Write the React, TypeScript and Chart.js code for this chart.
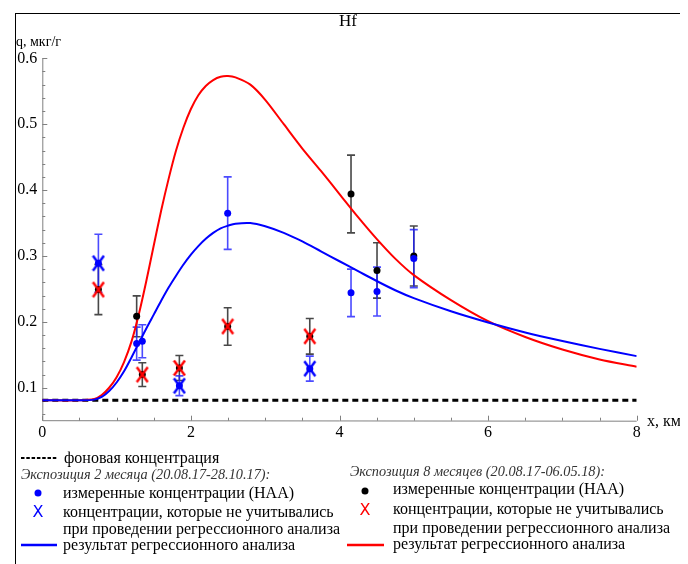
import React, { useEffect, useRef } from "react";
import { Chart, registerables } from "chart.js";
Chart.register(...registerables);

// ---------- data ----------
const BACKGROUND_LEVEL = 0.081;
const BACKGROUND_X = [0, 8];

const CURVE_X = [0, 0.5, 0.7, 0.8, 0.9, 1.0, 1.1, 1.2, 1.3, 1.4, 1.5, 1.6, 1.7, 1.8, 1.9, 2.0, 2.1, 2.2, 2.3, 2.4, 2.5, 2.6, 2.8, 3.0, 3.25, 3.5, 3.75, 4.0, 4.25, 4.5, 4.75, 5.0, 5.5, 6.0, 6.5, 7.0, 7.5, 8.0];
const RED_CURVE = [0.081, 0.081, 0.083, 0.089, 0.1, 0.116, 0.139, 0.17, 0.212, 0.262, 0.316, 0.369, 0.417, 0.46, 0.495, 0.523, 0.544, 0.558, 0.567, 0.572, 0.573, 0.571, 0.56, 0.537, 0.5, 0.463, 0.429, 0.394, 0.359, 0.326, 0.296, 0.271, 0.233, 0.201, 0.177, 0.158, 0.143, 0.132];
const BLUE_CURVE = [0.081, 0.081, 0.082, 0.086, 0.095, 0.108, 0.125, 0.146, 0.168, 0.19, 0.211, 0.232, 0.252, 0.27, 0.287, 0.302, 0.315, 0.326, 0.335, 0.342, 0.346, 0.349, 0.35, 0.345, 0.335, 0.322, 0.307, 0.292, 0.277, 0.262, 0.248, 0.236, 0.216, 0.199, 0.184, 0.171, 0.159, 0.148];

// 2 months exposure (blue)
const BLUE_X = [1.27, 1.346, 2.495, 4.155, 4.505, 5.0];
const BLUE_Y = [0.167, 0.1706, 0.365, 0.244, 0.246, 0.296];
const BLUE_ERR = [0.025, 0.025, 0.055, 0.036, 0.037, 0.044];
const BLUE_EXCL_X = [0.755, 1.845, 3.6];
const BLUE_EXCL_Y = [0.289, 0.103, 0.129];
const BLUE_EXCL_ERR = [0.044, 0.015, 0.019];

// 8 months exposure (black / red)
const BLACK_X = [1.27, 4.155, 4.505, 5.0];
const BLACK_Y = [0.2085, 0.394, 0.278, 0.3];
const BLACK_ERR = [0.031, 0.059, 0.042, 0.0455];
const BLACK_EXCL_X = [0.755, 1.346, 1.845, 2.495, 3.6];
const BLACK_EXCL_Y = [0.249, 0.12, 0.13, 0.193, 0.178];
const BLACK_EXCL_ERR = [0.038, 0.018, 0.019, 0.0285, 0.027];

const X_TICKS = [0, 2, 4, 6, 8];
const X_TICK_LABELS = ["0", "2", "4", "6", "8"];
const Y_TICKS = [0.1, 0.2, 0.3, 0.4, 0.5, 0.6];
const Y_TICK_LABELS = ["0.1", "0.2", "0.3", "0.4", "0.5", "0.6"];

const TITLE = "Hf";
const Y_TITLE = "q, мкг/г";
const X_TITLE = "x, км";

// ---------- helpers ----------
const pts = (xs: number[], ys: number[]) => xs.map((x, i) => ({ x, y: ys[i] }));

function makeX(color: string) {
  const c = document.createElement("canvas");
  c.width = 14;
  c.height = 18;
  const g = c.getContext("2d")!;
  g.strokeStyle = color;
  g.lineWidth = 2.4;
  g.beginPath();
  g.moveTo(1.5, 1.5);
  g.lineTo(12.5, 16.5);
  g.moveTo(12.5, 1.5);
  g.lineTo(1.5, 16.5);
  g.stroke();
  return c;
}

const SERIF = "'Liberation Serif', 'Times New Roman', serif";

const axesPlugin = {
  id: "mmaAxes",
  beforeDatasetsDraw(chart: any) {
    const { ctx, chartArea, scales } = chart;
    const xs = scales.x;
    const ys = scales.y;
    ctx.save();
    ctx.strokeStyle = "#808080";
    ctx.lineWidth = 1;
    ctx.beginPath();
    ctx.moveTo(chartArea.left + 0.5, ys.getPixelForValue(0.6));
    ctx.lineTo(chartArea.left + 0.5, chartArea.bottom);
    ctx.lineTo(chartArea.right, chartArea.bottom + 0.5);
    ctx.stroke();
    for (let v = 0; v <= 8.0001; v += 0.5) {
      const px = Math.round(xs.getPixelForValue(v)) + 0.5;
      const major = Math.abs(v - Math.round(v / 2) * 2) < 1e-6;
      ctx.beginPath();
      ctx.moveTo(px, chartArea.bottom);
      ctx.lineTo(px, chartArea.bottom - (major ? 5 : 3));
      ctx.stroke();
    }
    for (let k = 3; k <= 30; k++) {
      const v = k * 0.02;
      const py = Math.round(ys.getPixelForValue(v)) + 0.5;
      const major = k % 5 === 0;
      ctx.beginPath();
      ctx.moveTo(chartArea.left, py);
      ctx.lineTo(chartArea.left + (major ? 5 : 3), py);
      ctx.stroke();
    }
    ctx.fillStyle = "#000";
    ctx.font = "16px " + SERIF;
    ctx.textAlign = "center";
    ctx.textBaseline = "middle";
    X_TICKS.forEach((v, i) => {
      ctx.fillText(X_TICK_LABELS[i], xs.getPixelForValue(v), chartArea.bottom + 12);
    });
    ctx.textAlign = "right";
    Y_TICKS.forEach((v, i) => {
      ctx.fillText(Y_TICK_LABELS[i], chartArea.left - 5, ys.getPixelForValue(v));
    });
    const bars = (xv: number[], yv: number[], ev: number[], color: string) => {
      ctx.strokeStyle = color;
      ctx.lineWidth = 1.6;
      xv.forEach((x, i) => {
        const px = xs.getPixelForValue(x);
        const top = ys.getPixelForValue(yv[i] + ev[i]);
        const bot = ys.getPixelForValue(yv[i] - ev[i]);
        ctx.beginPath();
        ctx.moveTo(px, top);
        ctx.lineTo(px, bot);
        ctx.moveTo(px - 4, top);
        ctx.lineTo(px + 4, top);
        ctx.moveTo(px - 4, bot);
        ctx.lineTo(px + 4, bot);
        ctx.stroke();
      });
    };
    bars(BLACK_X, BLACK_Y, BLACK_ERR, "rgba(40,40,40,0.85)");
    bars(BLACK_EXCL_X, BLACK_EXCL_Y, BLACK_EXCL_ERR, "rgba(40,40,40,0.85)");
    bars(BLUE_X, BLUE_Y, BLUE_ERR, "rgba(30,30,255,0.8)");
    bars(BLUE_EXCL_X, BLUE_EXCL_Y, BLUE_EXCL_ERR, "rgba(30,30,255,0.8)");
    ctx.restore();
  },
};

export default function App() {
  const ref = useRef<HTMLCanvasElement | null>(null);

  useEffect(() => {
    if (!ref.current) return;
    const blueX = makeX("#0000ff");
    const redX = makeX("#ff0000");
    const chart = new Chart(ref.current, {
      type: "scatter",
      data: {
        datasets: [
          {
            label: "bg",
            data: BACKGROUND_X.map((x) => ({ x, y: BACKGROUND_LEVEL })),
            showLine: true,
            borderColor: "#000",
            borderWidth: 3,
            borderDash: [6, 4],
            pointRadius: 0,
            order: 10,
          },
          {
            label: "red",
            data: pts(CURVE_X, RED_CURVE),
            showLine: true,
            borderColor: "#ff0000",
            borderWidth: 2,
            pointRadius: 0,
            tension: 0.3,
            order: 9,
          },
          {
            label: "blue",
            data: pts(CURVE_X, BLUE_CURVE),
            showLine: true,
            borderColor: "#0000ff",
            borderWidth: 2,
            pointRadius: 0,
            tension: 0.3,
            order: 8,
          },
          {
            label: "black pts",
            data: pts(BLACK_X.concat(BLACK_EXCL_X), BLACK_Y.concat(BLACK_EXCL_Y)),
            backgroundColor: "#000",
            borderColor: "#000",
            pointRadius: 3.5,
            borderWidth: 0,
            order: 5,
          },
          {
            label: "blue pts",
            data: pts(BLUE_X.concat(BLUE_EXCL_X), BLUE_Y.concat(BLUE_EXCL_Y)),
            backgroundColor: "#0000ff",
            borderColor: "#0000ff",
            pointRadius: 3.5,
            borderWidth: 0,
            order: 4,
          },
          {
            label: "red x",
            data: pts(BLACK_EXCL_X, BLACK_EXCL_Y),
            pointStyle: redX as any,
            pointRadius: 8,
            order: 2,
          },
          {
            label: "blue x",
            data: pts(BLUE_EXCL_X, BLUE_EXCL_Y),
            pointStyle: blueX as any,
            pointRadius: 8,
            order: 1,
          },
        ],
      },
      options: {
        animation: false,
        responsive: false,
        devicePixelRatio: 1,
        layout: { padding: { left: 34.3, right: 51.3, top: 50.3, bottom: 143.3 } },
        scales: {
          x: { type: "linear", min: 0, max: 8, display: false },
          y: { type: "linear", min: 0.05, max: 0.6, display: false },
        },
        plugins: { legend: { display: false }, tooltip: { enabled: false }, title: { display: false } },
      },
      plugins: [axesPlugin],
    });
    return () => chart.destroy();
  }, []);

  const txt = (left: number, cy: number, s: string, extra: any = {}) => (
    <div
      style={{
        position: "absolute",
        left: left - 8,
        top: cy - 8 - 9,
        height: 18,
        lineHeight: "18px",
        whiteSpace: "nowrap",
        fontFamily: SERIF,
        fontSize: 16,
        color: "#000",
        ...extra,
      }}
    >
      {s}
    </div>
  );

  const dot = (cx: number, cy: number, color: string) => (
    <svg style={{ position: "absolute", left: cx - 8 - 5, top: cy - 8 - 5 }} width={10} height={10}>
      <circle cx={5} cy={5} r={3.5} fill={color} />
    </svg>
  );
  const xMark = (cx: number, cy: number, color: string) =>
    txt(cx - 7, cy, "X", { fontFamily: "'DejaVu Sans', sans-serif", fontSize: 16, color, width: 14, textAlign: "center" });
  const line = (x1: number, x2: number, cy: number, color: string, dash?: string, w = 2.5) => (
    <svg style={{ position: "absolute", left: x1 - 8, top: cy - 8 - 3 }} width={x2 - x1} height={6}>
      <line x1={0} y1={3} x2={x2 - x1} y2={3} stroke={color} strokeWidth={w} strokeDasharray={dash} />
    </svg>
  );

  const italic = { fontStyle: "italic", fontSize: 14.3, color: "#333" };

  return (
    <div style={{ position: "relative", width: 680, height: 556, overflow: "hidden", background: "#fff" }}>
      <div
        style={{
          position: "absolute",
          left: 15 - 8,
          top: 13 - 8,
          width: 800,
          height: 700,
          borderLeft: "1px solid #000",
          borderTop: "1px solid #000",
        }}
      />
      <canvas ref={ref} width={680} height={556} style={{ position: "absolute", left: 0, top: 0, width: 680, height: 556 }} />
      <div
        style={{
          position: "absolute",
          left: 0,
          width: 680,
          top: 21 - 8 - 10,
          height: 20,
          lineHeight: "20px",
          textAlign: "center",
          fontFamily: SERIF,
          fontSize: 17,
        }}
      >
        {TITLE}
      </div>
      {txt(16, 42, Y_TITLE, { fontSize: 14 })}
      {txt(647, 421, X_TITLE)}

      {line(21, 57, 458, "#000", "3.5 1.8", 2)}
      {txt(64, 458, "фоновая концентрация")}
      {txt(21, 474, "Экспозиция 2 месяца (20.08.17-28.10.17):", italic)}
      {dot(38, 493, "#0000ff")}
      {txt(63, 493, "измеренные концентрации (НАА)")}
      {xMark(38, 511.5, "#0000ff")}
      {txt(63, 511.5, "концентрации, которые не учитывались")}
      {txt(63, 529.3, "при проведении регрессионного анализа")}
      {line(21, 57, 544.5, "#0000ff")}
      {txt(63, 544.5, "результат регрессионного анализа")}

      {txt(350, 470.5, "Экспозиция 8 месяцев (20.08.17-06.05.18):", italic)}
      {dot(365, 490.5, "#000")}
      {txt(393, 489.3, "измеренные концентрации (НАА)")}
      {xMark(365, 509.5, "#ff0000")}
      {txt(393, 509, "концентрации, которые не учитывались")}
      {txt(393, 527.5, "при проведении регрессионного анализа")}
      {line(347, 384, 545, "#ff0000")}
      {txt(393, 544.3, "результат регрессионного анализа")}
    </div>
  );
}
